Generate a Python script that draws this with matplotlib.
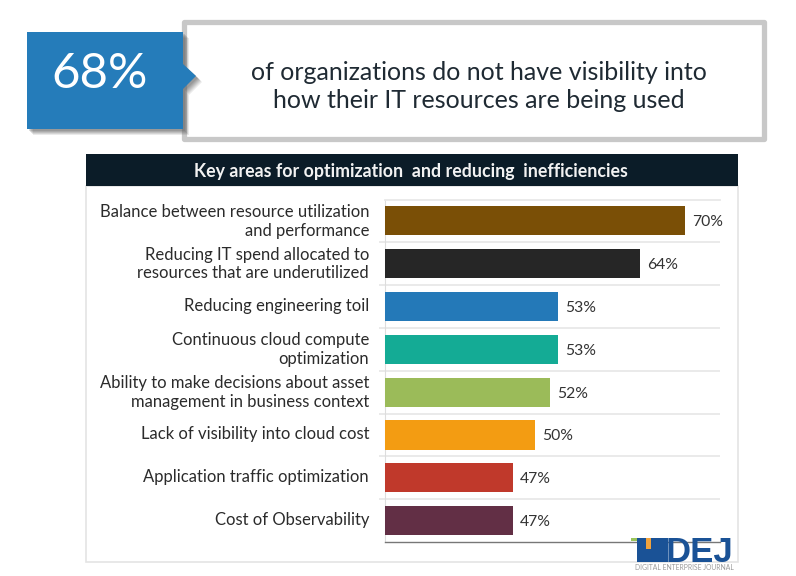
import matplotlib
matplotlib.use("Agg")
import matplotlib.pyplot as plt
from matplotlib.patches import Rectangle, Polygon
from matplotlib.transforms import ScaledTranslation

plt.rcParams['font.family'] = ['Lato', 'DejaVu Sans']

categories = [
    "Balance between resource utilization\nand performance",
    "Reducing IT spend allocated to\nresources that are underutilized",
    "Reducing engineering toil",
    "Continuous cloud compute\noptimization",
    "Ability to make decisions about asset\nmanagement in business context",
    "Lack of visibility into cloud cost",
    "Application traffic optimization",
    "Cost of Observability",
]
values = [70, 64, 53, 53, 52, 50, 47, 47]
colors = ["#7a4f06", "#262626", "#2479b8", "#14ab95", "#9bbb59", "#f39c12", "#c0392b", "#622f45"]
title = "Key areas for optimization  and reducing  inefficiencies"
headline = "68%"
statement = "of organizations do not have visibility into\nhow their IT resources are being used"

W, H = 796, 576
fig = plt.figure(figsize=(W / 100, H / 100), dpi=100, facecolor="white")

# Full-figure pixel canvas for the decoration
bg = fig.add_axes([0, 0, 1, 1])
bg.set_xlim(0, W)
bg.set_ylim(H, 0)
bg.axis("off")

def rect(x0, y0, x1, y1, **kw):
    bg.add_patch(Rectangle((x0, y0), x1 - x0, y1 - y0, **kw))

# statement box
rect(183.5, 21.5, 763.5, 138.5, fc="white", ec="#c8c8c8", lw=3.8, joinstyle="round")
bg.text(479, 86.5, statement, ha="center", va="center", fontsize=18, color="#1f2a33",
        linespacing=1.3)

# blue callout with soft shadow
for off, a in [(6, .12), (5, .14), (4, .16), (3, .18), (2, .2)]:
    rect(27 + off, 32 + off, 183 + off, 129 + off, fc="#555555", ec="none", alpha=a)
    bg.add_patch(Polygon([(183 + off, 64 + off), (196 + off, 76 + off), (183 + off, 89 + off)],
                         fc="#555555", ec="none", alpha=a))
rect(27, 32, 183, 129, fc="#257cba", ec="none")
bg.add_patch(Polygon([(183, 64), (196, 76), (183, 89)], fc="#257cba", ec="none"))
bg.text(99.5, 74, headline, ha="center", va="center", fontsize=35.5, color="white")

# chart panel and header
rect(86, 186, 738, 562, fc="white", ec="#e4e4e4", lw=1.2)
rect(86, 154, 738, 186, fc="#0b1c28", ec="none")
bg.text(411, 171, title, ha="center", va="center", fontsize=12.8, color="#f2f2f2",
        fontweight="bold")

# bar chart
ax = fig.add_axes([385 / W, 1 - 542 / H, 335 / W, (542 - 199.5) / H])
ax.patch.set_alpha(0)
positions = list(range(len(categories)))
ax.barh(positions, values, height=0.68, color=colors, zorder=3)
ax.set_xlim(30, 30 + 335 / 7.5)
ax.set_ylim(len(categories) - 0.5, -0.5)
ax.set_xticks([])
ax.set_yticks(positions)
ax.set_yticklabels(categories, fontsize=12, color="#2b2b2b", ha="right", linespacing=1.2)
ax.tick_params(axis="y", length=0, pad=11.5)
ax.set_yticks([p + 0.5 for p in positions[:-1]], minor=True)
ax.tick_params(axis="y", which="minor", length=4, color="#e8e8e8", width=1.3)
ax.grid(axis="y", which="minor", color="#e8e8e8", lw=1.3, zorder=1)
up = ScaledTranslation(0, 2.5 / 100, fig.dpi_scale_trans)
for lab in ax.get_yticklabels():
    lab.set_transform(lab.get_transform() + up)
ax.spines["right"].set_visible(False)
ax.spines["top"].set_color("#e8e8e8")
ax.spines["top"].set_linewidth(1.3)
ax.spines["left"].set_color("#dddddd")
ax.spines["bottom"].set_color("#777777")
ax.spines["bottom"].set_linewidth(1.0)
for p, v in zip(positions, values):
    ax.text(v + 1.0, p + 0.035, f"{v}%", va="center", ha="left", fontsize=11.3, color="#333333")

# logo on top
top = fig.add_axes([0, 0, 1, 1])
top.set_xlim(0, W)
top.set_ylim(H, 0)
top.axis("off")
top.patch.set_alpha(0)
top.text(699, 561.5, "DEJ", ha="center", va="baseline", fontsize=25, fontweight="bold",
         family="Liberation Sans", color="#1a5296")
top.add_patch(Rectangle((637, 538), 31, 24, fc="#1a5296", ec="none"))
top.add_patch(Rectangle((646, 538), 5, 11, fc="#f0a23c", ec="none"))
top.add_patch(Rectangle((631, 538), 6, 3, fc="#9bc45a", ec="none"))
top.text(684.5, 567.5, "DIGITAL ENTERPRISE JOURNAL", ha="center", va="center", fontsize=4.9,
         color="#9a9a9a")

fig.savefig("out.png", dpi=100)
